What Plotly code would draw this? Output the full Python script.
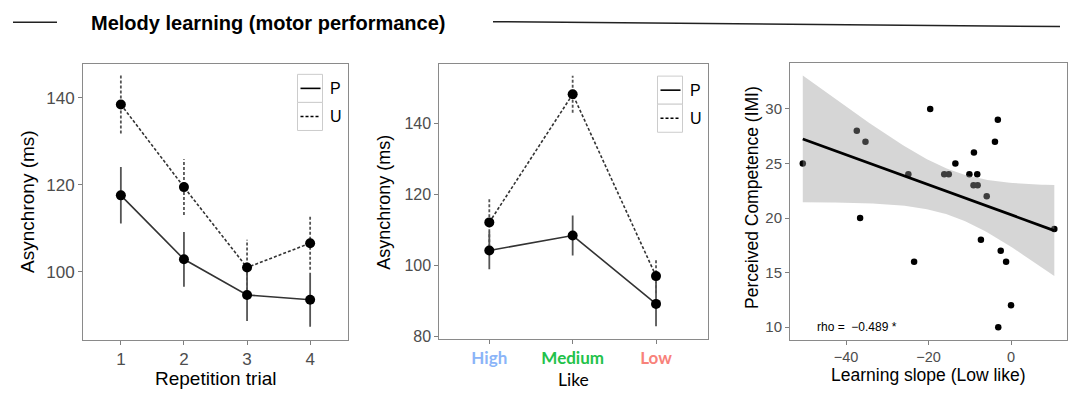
import numpy as np
import plotly.graph_objects as go

# ---------------- data ----------------
trials = [1, 2, 3, 4]
rep_P = [117.6, 102.9, 94.7, 93.6]
rep_P_err = [6.5, 6.3, 6.0, 6.2]
rep_U = [138.5, 119.5, 101.0, 106.6]
rep_U_err = [6.7, 6.4, 6.4, 6.1]

like_levels = ["High", "Medium", "Low"]
like_colors = ["#8AB4F8", "#22C24A", "#F8827A"]
like_P = [104.2, 108.4, 89.2]
like_P_err = [5.3, 5.6, 6.3]
like_U = [112.1, 148.1, 97.0]
like_U_err = [7.0, 5.2, 4.8]

slope_low = [-50.5, -37.4, -35.3, -36.6, -24.9, -23.5, -19.6, -16.2, -15.1, -13.5,
             -10.1, -9.0, -9.1, -8.2, -8.1, -5.9, -7.3, -3.9, -3.2, -2.5, -1.2, 0.0,
             -3.1, 10.5]
competence = [25, 28, 27, 20, 24, 16, 30, 24, 24, 25,
              24, 26, 23, 24, 23, 22, 18, 27, 29, 17, 16, 12,
              10, 19]
rho_text = "rho =  \u22120.489 *"
T975_DF22 = 2.0739  # t quantile for 95% CI, df = n - 2 = 22

W, H = 1077, 394
def PX(x):
    return x / W
def PY(y):
    return 1 - y / H

fig = go.Figure()

LINE_C = "#333333"
ERR_C = "#555555"

def err_segments(xs, ys, es):
    sx, sy = [], []
    for x, y, e in zip(xs, ys, es):
        sx += [x, x, None]
        sy += [y - e, y + e, None]
    return sx, sy

def add_group(xs, ys, es, dash, xa, ya):
    sx, sy = err_segments(xs, ys, es)
    fig.add_trace(go.Scatter(x=sx, y=sy, mode="lines", xaxis=xa, yaxis=ya,
                             line=dict(color=ERR_C, width=1.8, dash=dash),
                             showlegend=False, hoverinfo="skip"))
    fig.add_trace(go.Scatter(x=xs, y=ys, mode="lines", xaxis=xa, yaxis=ya,
                             line=dict(color=LINE_C, width=1.6, dash=dash),
                             showlegend=False))

# Panel 1
add_group(trials, rep_U, rep_U_err, "3px,2px", "x", "y")
add_group(trials, rep_P, rep_P_err, "solid", "x", "y")
fig.add_trace(go.Scatter(x=trials + trials, y=rep_P + rep_U, mode="markers",
                         xaxis="x", yaxis="y", marker=dict(color="black", size=10),
                         showlegend=False))

# Panel 2
like_x = list(range(len(like_levels)))
add_group(like_x, like_U, like_U_err, "3px,2px", "x2", "y2")
add_group(like_x, like_P, like_P_err, "solid", "x2", "y2")
fig.add_trace(go.Scatter(x=like_x + like_x, y=like_P + like_U, mode="markers",
                         xaxis="x2", yaxis="y2", marker=dict(color="black", size=10),
                         showlegend=False))

# Panel 3: points, then regression ribbon (drawn over the points), then line
xs = np.array(slope_low, dtype=float)
ys = np.array(competence, dtype=float)
n = len(xs)
b, a = np.polyfit(xs, ys, 1)
resid = ys - (a + b * xs)
s = np.sqrt(np.sum(resid ** 2) / (n - 2))
sxx = np.sum((xs - xs.mean()) ** 2)
gx = np.linspace(xs.min(), xs.max(), 80)
gy = a + b * gx
half = T975_DF22 * s * np.sqrt(1 / n + (gx - xs.mean()) ** 2 / sxx)

fig.add_trace(go.Scatter(x=slope_low, y=competence, mode="markers", xaxis="x3", yaxis="y3",
                         marker=dict(color="black", size=6.5), showlegend=False))
fig.add_trace(go.Scatter(x=np.concatenate([gx, gx[::-1]]),
                         y=np.concatenate([gy + half, (gy - half)[::-1]]),
                         mode="lines", fill="toself", fillcolor="rgba(153,153,153,0.4)",
                         line=dict(width=0), xaxis="x3", yaxis="y3",
                         showlegend=False, hoverinfo="skip"))
fig.add_trace(go.Scatter(x=gx, y=gy, mode="lines", xaxis="x3", yaxis="y3",
                         line=dict(color="black", width=2.8), showlegend=False))

# ---------------- axes ----------------
AX = dict(showline=True, mirror=True, linecolor="#8a8a8a", linewidth=1,
          ticks="outside", ticklen=4, tickcolor="#7f7f7f", showgrid=False,
          zeroline=False)
TICK_FONT = "Liberation Sans, Arial, sans-serif"

fig.update_layout(
    width=W, height=H,
    margin=dict(l=0, r=0, t=0, b=0),
    paper_bgcolor="white", plot_bgcolor="white",
    xaxis=dict(AX, domain=[PX(83), PX(348)], anchor="y", range=[0.4, 4.6],
               tickvals=trials, tickfont=dict(family=TICK_FONT, size=17, color="#4d4d4d")),
    yaxis=dict(AX, domain=[PY(345), PY(65)], anchor="x", range=[84.4, 147.8],
               tickvals=[100, 120, 140], tickfont=dict(family=TICK_FONT, size=17, color="#4d4d4d")),
    xaxis2=dict(AX, domain=[PX(439.3), PX(707.7)], anchor="y2", range=[-0.6, 2.62],
                tickvals=like_x,
                ticktext=[f"<b><span style='color:{c}'>{t}</span></b>" for t, c in zip(like_levels, like_colors)],
                tickfont=dict(family="Lato, sans-serif", size=17)),
    yaxis2=dict(AX, domain=[PY(344), PY(65)], anchor="x2", range=[79.4, 156.6],
                tickvals=[80, 100, 120, 140], tickfont=dict(family=TICK_FONT, size=16, color="#4d4d4d")),
    xaxis3=dict(AX, domain=[PX(790), PX(1066.7)], anchor="y3", range=[-53.6, 13.5],
                tickvals=[-40, -20, 0], tickfont=dict(family=TICK_FONT, size=14.5, color="#4d4d4d")),
    yaxis3=dict(AX, domain=[PY(345), PY(64)], anchor="x3", range=[8.85, 34.2],
                tickvals=[10, 15, 20, 25, 30], tickfont=dict(family=TICK_FONT, size=15, color="#4d4d4d")),
)

# ---------------- text ----------------
ann = []
def text(x, y, t, size, family=TICK_FONT, color="black", angle=0, xanchor="center", bold=False):
    ann.append(dict(x=PX(x), y=PY(y), xref="paper", yref="paper", text=(f"<b>{t}</b>" if bold else t),
                    showarrow=False, xanchor=xanchor, yanchor="middle", textangle=angle,
                    font=dict(family=family, size=size, color=color)))

text(268.5, 23, "Melody learning (motor performance)", 20, bold=True)
text(28, 205, "Asynchrony (ms)", 19, angle=-90)
text(215.8, 384, "Repetition trial", 19)
text(384, 206, "Asynchrony (ms)", 18, angle=-90)
text(573, 385, "Like", 17.5, family="Lato, sans-serif")
text(752, 201, "Perceived Competence (IMI)", 17.5, angle=-90)
text(928, 381, "Learning slope (Low like)", 17.5)
ann.append(dict(x=-37.3, y=10, xref="x3", yref="y3", text=rho_text, showarrow=False,
                font=dict(family=TICK_FONT, size=12, color="black")))

# legends (manual ggplot-style keys)
shapes = []
for (lx0, lx1, top) in [(297.5, 322.5, 75.5), (657.5, 682.5, 77.3)]:
    mid = top + 28.5
    bot = top + 57
    for (y0, y1) in [(top, mid), (mid, bot)]:
        shapes.append(dict(type="rect", xref="paper", yref="paper",
                           x0=PX(lx0), x1=PX(lx1), y0=PY(y1), y1=PY(y0),
                           line=dict(color="#cccccc", width=1), fillcolor="white"))
    shapes.append(dict(type="line", xref="paper", yref="paper", x0=PX(lx0 + 3), x1=PX(lx1 - 2),
                       y0=PY((top + mid) / 2), y1=PY((top + mid) / 2),
                       line=dict(color="black", width=1.6)))
    shapes.append(dict(type="line", xref="paper", yref="paper", x0=PX(lx0 + 3), x1=PX(lx1 - 2),
                       y0=PY((mid + bot) / 2), y1=PY((mid + bot) / 2),
                       line=dict(color="black", width=1.6, dash="3px,2px")))
    text(lx1 + 5, (top + mid) / 2, "P", 16, xanchor="left")
    text(lx1 + 5, (mid + bot) / 2, "U", 16, xanchor="left")

# title rules
shapes.append(dict(type="line", xref="paper", yref="paper", x0=PX(13), x1=PX(57),
                   y0=PY(22.7), y1=PY(22.7), line=dict(color="#222222", width=1.5)))
shapes.append(dict(type="line", xref="paper", yref="paper", x0=PX(493), x1=PX(1060),
                   y0=PY(22), y1=PY(27), line=dict(color="#222222", width=1.5)))

fig.update_layout(annotations=ann, shapes=shapes)
fig.write_html("out.html", config={"displayModeBar": False},
               post_script="document.body.style.margin='0px';document.body.style.overflow='hidden';")
